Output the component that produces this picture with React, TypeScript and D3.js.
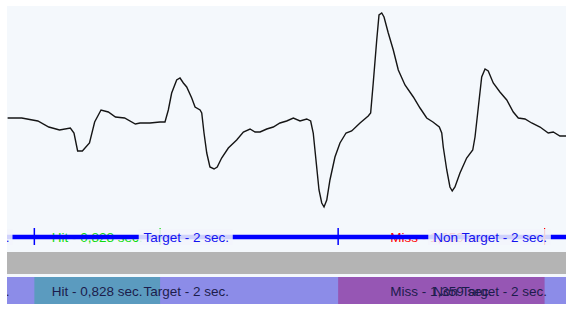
import React from "react";
import * as d3 from "d3";

// signal trace, time in ms from stimulus onset, amplitude in µV
const sampleTimes = [
  -176, -83, 23, 95, 166, 237, 261, 285, 316, 363, 397, 439, 487, 534, 594, 665,
  696, 761, 827, 860, 882, 904, 937, 959, 981, 1003, 1036, 1058, 1091, 1102, 1117,
  1135, 1156, 1183, 1204, 1233, 1277, 1332, 1376, 1420, 1453, 1486, 1530, 1573,
  1617, 1661, 1705, 1749, 1793, 1819, 1836, 1854, 1874, 1892, 1907, 1925, 1946,
  1979, 2012, 2052, 2089, 2144, 2198, 2214, 2231, 2254, 2269, 2287, 2302, 2330,
  2363, 2396, 2440, 2495, 2539, 2583, 2624, 2666, 2682, 2692, 2715, 2736, 2751,
  2769, 2802, 2846, 2886, 2901, 2923, 2945, 2967, 2988, 3021, 3065, 3110, 3153,
  3186, 3230, 3274, 3329, 3383, 3416, 3460, 3500,
];
const sampleValues = [
  0, 0, -3, -9, -12, -10, -15, -33, -33, -25, -4, 8, 6, 1, 0, -6,
  -5, -5, -4, -4, 8, 25, 38, 40, 35, 31, 20, 11, 8, 5, -15,
  -35, -49, -51, -49, -40, -30, -22, -14, -11, -14, -14, -11, -9,
  -5, -3, 0, -3, -1, -3, -15, -42, -72, -85, -89, -82, -62,
  -39, -25, -15, -13, -5, 2, 5, 35, 78, 103, 105, 101, 85,
  68, 48, 33, 21, 10, 0, -4, -9, -15, -29, -52, -69, -73,
  -69, -55, -40, -32, -19, 11, 41, 49, 47, 35, 26, 18, 6,
  0, -1, -5, -9, -15, -14, -18, -18,
];

// stimuli (seconds)
const stimulusStarts = [-2, 0, 2];
const stimulusDurations = [2, 2, 2];
const stimulusLabels = ["Target - 2 sec.", "Target - 2 sec.", "Non Target - 2 sec."];

// responses (seconds)
const responseStarts = [0, 2];
const responseDurations = [0.828, 1.359];
const responseLabels = ["Hit - 0,828 sec.", "Miss - 1,359 sec."];
const responseTextColors = ["#10dd10", "#ff0000"];
const responseBoxColors = ["#5b9bbf", "#9656b4"];

const timeDomain = [-0.18, 3.5];
const ampDomain = [-102, 112];

const W = 566;
const H = 309;
const left = 7;
const plotTop = 6;
const plotBottom = 220;
const eventY = 237;
const grayTop = 252;
const grayBottom = 274;
const trackTop = 277;
const trackBottom = 304;

const font = "'Liberation Sans', Arial, sans-serif";
const fontSize = 13.5;

const App = () => {
  const x = d3.scaleLinear().domain(timeDomain).range([left, W]);
  const y = d3.scaleLinear().domain(ampDomain).range([plotBottom, plotTop]);

  const signal = sampleTimes.map((t, i) => [t / 1000, sampleValues[i]] as [number, number]);
  const line = d3
    .line<[number, number]>()
    .x((d) => x(d[0]))
    .y((d) => y(d[1]));

  // where a stimulus label goes: centred on the stimulus, or pushed off
  // the left edge when the stimulus began before the window
  const labelPos = (i: number) => {
    const s = stimulusStarts[i];
    if (s < timeDomain[0]) return { x: x(timeDomain[0]) + 2.5, anchor: "end" };
    return { x: x(s + stimulusDurations[i] / 2), anchor: "middle" };
  };

  const measure = (txt: string) => {
    // rough Arial width
    const w: Record<string, number> = {
      T: 0.611, a: 0.556, r: 0.333, g: 0.556, e: 0.556, t: 0.278, " ": 0.278,
      "-": 0.333, "2": 0.556, s: 0.5, c: 0.5, ".": 0.278, N: 0.722, o: 0.556, n: 0.556,
    };
    let sum = 0;
    for (const ch of txt) sum += w[ch] ?? 0.556;
    return sum * fontSize;
  };

  return (
    <svg
      width={W}
      height={H}
      style={{ position: "absolute", left: 0, top: 0, background: "#fff" }}
    >
      <defs>
        <clipPath id="panel">
          <rect x={left} y={0} width={W - left} height={H} />
        </clipPath>
      </defs>
      <rect x={left} y={plotTop} width={W - left} height={trackTop - plotTop} fill="#f4f8fc" />

      <g clipPath="url(#panel)">
        {/* trace */}
        <path d={line(signal) || ""} fill="none" stroke="#151515" strokeWidth={1.4} />

        {/* event row: response labels under the line */}
        {responseStarts.map((s, i) => (
          <text
            key={"rt" + i}
            x={x(s + responseDurations[i] / 2)}
            y={eventY + 4.5}
            textAnchor="middle"
            fontFamily={font}
            fontSize={fontSize}
            fill={responseTextColors[i]}
          >
            {responseLabels[i]}
          </text>
        ))}
        <line x1={left} x2={W} y1={eventY} y2={eventY} stroke="#0000ff" strokeWidth={4.5} />
        {stimulusStarts
          .filter((s) => s >= timeDomain[0])
          .map((s, i) => (
            <line
              key={"tk" + i}
              x1={x(s)}
              x2={x(s)}
              y1={eventY - 9}
              y2={eventY + 8}
              stroke="#0000ff"
              strokeWidth={1.5}
            />
          ))}
        {responseStarts.map((s, i) => (
          <line
            key={"re" + i}
            x1={x(s + responseDurations[i])}
            x2={x(s + responseDurations[i])}
            y1={eventY - 9}
            y2={eventY + 8}
            stroke={responseTextColors[i]}
            strokeWidth={1.2}
          />
        ))}
        {stimulusLabels.map((lab, i) => {
          const p = labelPos(i);
          const w = measure(lab);
          const x0 = p.anchor === "end" ? p.x - w : p.x - w / 2;
          return (
            <g key={"sl" + i}>
              <rect
                x={x0 - 4}
                y={eventY - 8}
                width={w + 7}
                height={16}
                fill="#f2f4fc"
                opacity={0.86}
              />
              <text
                x={p.x}
                y={eventY + 4.5}
                textAnchor={p.anchor}
                fontFamily={font}
                fontSize={fontSize}
                fill="#1212f0"
              >
                {lab}
              </text>
            </g>
          );
        })}

        {/* gray band */}
        <rect x={left} y={grayTop} width={W - left} height={grayBottom - grayTop} fill="#b4b4b4" />

        {/* stimulus / response track */}
        <rect x={left} y={trackTop} width={W - left} height={trackBottom - trackTop} fill="#8c8ce8" />
        {responseStarts.map((s, i) => (
          <rect
            key={"rb" + i}
            x={x(s)}
            y={trackTop}
            width={x(s + responseDurations[i]) - x(s)}
            height={trackBottom - trackTop}
            fill={responseBoxColors[i]}
          />
        ))}
        {responseStarts.map((s, i) => (
          <text
            key={"rl" + i}
            x={x(s + responseDurations[i] / 2)}
            y={trackBottom - 8}
            textAnchor="middle"
            fontFamily={font}
            fontSize={fontSize}
            fill="#1c1c4c"
          >
            {responseLabels[i]}
          </text>
        ))}
        {stimulusLabels.map((lab, i) => {
          const p = labelPos(i);
          return (
            <text
              key={"sb" + i}
              x={p.x}
              y={trackBottom - 8}
              textAnchor={p.anchor}
              fontFamily={font}
              fontSize={fontSize}
              fill="#1c1c4c"
            >
              {lab}
            </text>
          );
        })}
      </g>
    </svg>
  );
};

export default App;
